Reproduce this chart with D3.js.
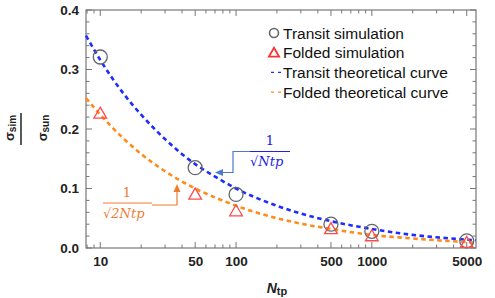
<!DOCTYPE html>
<html lang="en">
<head>
<meta charset="utf-8">
<title>sigma ratio vs Ntp</title>
<script src="https://cdn.jsdelivr.net/npm/d3@7"></script>
<style>
  body { margin: 0; background: #fff; }
  .tick text { font: bold 13.5px "Liberation Sans", Arial, sans-serif; fill: #222; }
  .legend text { font: 15.5px "Liberation Sans", Arial, sans-serif; fill: #111; }
  .note { font-family: "DejaVu Serif", "Liberation Serif", serif; font-style: italic; }
  .ylab { font: bold 13px "Liberation Sans", Arial, sans-serif; fill: #222; }
</style>
</head>
<body>
<svg id="chart" width="495" height="298"></svg>
<script>
// simulated points
var ntp = [10, 50, 100, 500, 1000, 5000];
var transitSim = [0.321, 0.135, 0.090, 0.040, 0.028, 0.012];
var foldedSim = [0.226, 0.090, 0.062, 0.032, 0.020, 0.009];

// theoretical curves
var curveN = [7.85, 10, 15, 20, 30, 50, 70, 100, 200, 300, 500, 1000, 2000, 3000, 5000, 5850];
var transitCurve = [0.357, 0.316, 0.258, 0.224, 0.183, 0.141, 0.120, 0.100, 0.071, 0.058, 0.045, 0.032, 0.022, 0.018, 0.014, 0.013];
var foldedCurve = [0.252, 0.224, 0.183, 0.158, 0.129, 0.100, 0.085, 0.071, 0.050, 0.041, 0.032, 0.022, 0.016, 0.013, 0.010, 0.009];

var xTicks = [10, 50, 100, 500, 1000, 5000];
var yTicks = [0, 0.1, 0.2, 0.3, 0.4];
var legendNames = ["Transit simulation", "Folded simulation", "Transit theoretical curve", "Folded theoretical curve"];

var svg = d3.select("#chart");
var pLeft = 86, pRight = 476, pTop = 10, pBottom = 248;

var x = d3.scaleLog().domain([7.85, 5850]).range([pLeft, pRight]);
var y = d3.scaleLinear().domain([0, 0.4]).range([pBottom, pTop]);

var blue = "#1f2cff", orange = "#ff8c1a";

// frame
svg.append("rect")
  .attr("x", pLeft).attr("y", pTop)
  .attr("width", pRight - pLeft).attr("height", pBottom - pTop)
  .attr("fill", "none").attr("stroke", "#777").attr("stroke-width", 1.2);

// minor ticks (log)
var minorX = [];
[1, 10, 100, 1000].forEach(function(p){
  for (var k = 1; k < 10; k++) {
    var v = p * k;
    if (v >= 7.85 && v <= 5850) minorX.push(v);
  }
});
var minorY = d3.range(0, 0.401, 0.02);

svg.append("g").selectAll("line").data(minorX).enter().append("line")
  .attr("x1", d => x(d)).attr("x2", d => x(d))
  .attr("y1", pBottom).attr("y2", d => pBottom - (xTicks.indexOf(d) >= 0 ? 6 : 3.5))
  .attr("stroke", "#777");
svg.append("g").selectAll("line").data(minorX).enter().append("line")
  .attr("x1", d => x(d)).attr("x2", d => x(d))
  .attr("y1", pTop).attr("y2", d => pTop + (xTicks.indexOf(d) >= 0 ? 6 : 3.5))
  .attr("stroke", "#777");
svg.append("g").selectAll("line").data(minorY).enter().append("line")
  .attr("y1", d => y(d)).attr("y2", d => y(d))
  .attr("x1", pLeft).attr("x2", (d, i) => pLeft + (i % 5 === 0 ? 6 : 3.5))
  .attr("stroke", "#777");
svg.append("g").selectAll("line").data(minorY).enter().append("line")
  .attr("y1", d => y(d)).attr("y2", d => y(d))
  .attr("x1", pRight).attr("x2", (d, i) => pRight - (i % 5 === 0 ? 6 : 3.5))
  .attr("stroke", "#777");

// axes labels
var xAxis = d3.axisBottom(x).tickValues(xTicks).tickFormat(d3.format("d")).tickSize(0).tickPadding(8);
var yAxis = d3.axisLeft(y).tickValues(yTicks).tickFormat(d3.format(".1f")).tickSize(0).tickPadding(7);
svg.append("g").attr("transform", "translate(0," + pBottom + ")").call(xAxis).call(g => g.select(".domain").remove());
svg.append("g").attr("transform", "translate(" + pLeft + ",0)").call(yAxis).call(g => g.select(".domain").remove());

// curves
var line = d3.line().x(d => x(d[0])).y(d => y(d[1])).curve(d3.curveMonotoneX);
svg.append("path").datum(d3.zip(curveN, transitCurve)).attr("d", line)
  .attr("fill", "none").attr("stroke", blue).attr("stroke-width", 2.6).attr("stroke-dasharray", "4.5,3.5");
svg.append("path").datum(d3.zip(curveN, foldedCurve)).attr("d", line)
  .attr("fill", "none").attr("stroke", orange).attr("stroke-width", 2.6).attr("stroke-dasharray", "4.5,3.5");

// markers
var tri = d3.symbol().type(d3.symbolTriangle).size(70);
svg.append("g").selectAll("circle").data(d3.zip(ntp, transitSim)).enter().append("circle")
  .attr("cx", d => x(d[0])).attr("cy", d => y(d[1])).attr("r", 7)
  .attr("fill", "none").attr("stroke", "#62666e").attr("stroke-width", 1.3);
svg.append("g").selectAll("path").data(d3.zip(ntp, foldedSim)).enter().append("path")
  .attr("d", tri).attr("transform", d => "translate(" + x(d[0]) + "," + (y(d[1]) + 1) + ")")
  .attr("fill", "none").attr("stroke", "#ff4a4a").attr("stroke-width", 1.3);

// legend
var lg = svg.append("g").attr("class", "legend");
var triSmall = d3.symbol().type(d3.symbolTriangle).size(45);
legendNames.forEach(function(name, i){
  var ly = 33 + i * 19.7;
  if (i === 0) lg.append("circle").attr("cx", 274).attr("cy", ly).attr("r", 4.5)
    .attr("fill", "none").attr("stroke", "#62666e").attr("stroke-width", 1.6);
  if (i === 1) lg.append("path").attr("d", triSmall).attr("transform", "translate(274," + (ly + 1) + ")")
    .attr("fill", "none").attr("stroke", "#ff3030").attr("stroke-width", 1.8);
  if (i > 1) lg.append("line").attr("x1", 271).attr("x2", 281).attr("y1", ly).attr("y2", ly)
    .attr("stroke", i === 2 ? blue : orange).attr("stroke-width", 1.2).attr("stroke-dasharray", "3,4");
  lg.append("text").attr("x", 283).attr("y", ly + 5.5).text(name);
});

// y label: sigma_sim / sigma_sun, rotated
svg.append("text").attr("class", "ylab").attr("transform", "translate(14,128) rotate(-90)")
  .attr("text-anchor", "middle")
  .html('σ<tspan font-size="10" dy="2">sim</tspan>');
svg.append("line").attr("x1", 21).attr("x2", 21).attr("y1", 113).attr("y2", 145)
  .attr("stroke", "#222").attr("stroke-width", 1.5);
svg.append("text").attr("class", "ylab").attr("transform", "translate(47,128) rotate(-90)")
  .attr("text-anchor", "middle")
  .html('σ<tspan font-size="10" dy="2">sun</tspan>');

// x label
svg.append("text").attr("x", 277).attr("y", 293).attr("text-anchor", "middle")
  .style("font", "bold 14px 'Liberation Sans', Arial, sans-serif").style("fill", "#222")
  .html('<tspan font-style="italic">N</tspan><tspan font-size="11" dy="2">tp</tspan>');

// annotations
var noteBlue = "#2020e6", noteLineBlue = "#4a7bd0", noteOrange = "#ef7d31";
svg.append("text").attr("class", "note").attr("x", 270).attr("y", 145).attr("text-anchor", "middle")
  .attr("font-size", 13).style("font-style", "normal").attr("fill", noteBlue).text("1");
svg.append("line").attr("x1", 250).attr("x2", 290).attr("y1", 151.5).attr("y2", 151.5).attr("stroke", noteBlue).attr("stroke-width", 1);
svg.append("text").attr("class", "note").attr("x", 250).attr("y", 166)
  .attr("font-size", 13).attr("fill", noteBlue).text("√Ntp");
svg.append("path").attr("d", "M250,151.5 H233 V172.5 H222")
  .attr("fill", "none").attr("stroke", noteLineBlue).attr("stroke-width", 1.2);
svg.append("path").attr("d", "M215,172.5 L223,169 L223,176 Z").attr("fill", noteLineBlue);

svg.append("text").attr("class", "note").attr("x", 127).attr("y", 197).attr("text-anchor", "middle")
  .attr("font-size", 13).style("font-style", "normal").attr("fill", noteOrange).text("1");
svg.append("line").attr("x1", 103).attr("x2", 152).attr("y1", 203).attr("y2", 203).attr("stroke", noteOrange).attr("stroke-width", 1);
svg.append("text").attr("class", "note").attr("x", 103).attr("y", 218)
  .attr("font-size", 13).attr("fill", noteOrange).text("√2Ntp");
svg.append("path").attr("d", "M152,205 H177 V191")
  .attr("fill", "none").attr("stroke", noteOrange).attr("stroke-width", 1.2);
svg.append("path").attr("d", "M177,184 L173.5,192 L180.5,192 Z").attr("fill", noteOrange);
</script>
</body>
</html>
